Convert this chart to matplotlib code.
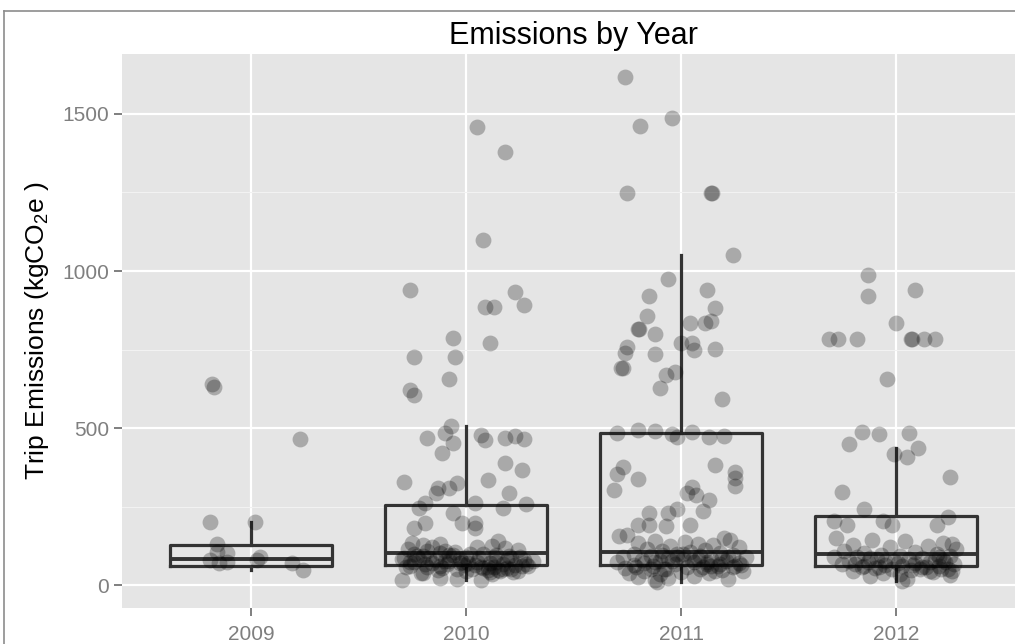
import matplotlib
matplotlib.use('Agg')
import matplotlib.pyplot as plt
from matplotlib.lines import Line2D

plt.rcParams['font.family'] = ['Liberation Sans', 'DejaVu Sans']
plt.rcParams['mathtext.default'] = 'regular'

years = ['2009', '2010', '2011', '2012']

# box statistics
q1 = [60, 64, 64, 60]
med = [83, 102, 105, 99]
q3 = [127, 255, 484, 220]
whis_lo = [48, 16, 10, 14]
whis_hi = [200, 505, 1050, 436]

# trips per year (value, jitter offset)
vals_2009 = [640, 630, 466, 200, 200, 131, 105, 102, 89, 80, 80, 73, 70, 70, 48]
jit_2009 = [-0.18, -0.17, 0.23, -0.19, 0.02, -0.16, -0.16, -0.11, 0.04, -0.19,
            0.03, -0.11, 0.19, -0.15, 0.24]

vals_2010 = [1458, 1378, 1098, 938, 932, 887, 887, 893, 788, 772, 727, 727, 657,
             622, 606, 505, 469, 485, 453, 421, 479, 463, 469, 475, 466, 389, 367,
             329, 310, 294, 310, 325, 335, 294, 262, 246, 258, 262, 246, 230, 198,
             182, 198, 198, 182, 16, 22, 19, 16, 38, 41,
             135, 128, 120, 115, 110, 105, 100, 98, 95, 92, 88, 85, 82, 80, 78, 75,
             72, 70, 68, 65, 62, 60, 58, 55, 52, 50, 48, 45, 42, 40, 125, 118, 112,
             108, 102, 96, 90, 86, 83, 79, 76, 73, 69, 66, 63, 59, 56, 53, 47, 44,
             140, 132, 122, 100, 93, 87, 74, 67, 57, 35,
             92, 85, 78, 71, 64, 58, 52, 46, 88, 81, 74, 67, 60, 54, 48, 95, 84,
             70, 62, 50]
jit_2010 = [0.05, 0.18, 0.08, -0.26, 0.23, 0.09, 0.13, 0.27, -0.06, 0.11, -0.24,
            -0.05, -0.08, -0.26, -0.24, -0.07, -0.18, -0.10, -0.06, -0.11, 0.07,
            0.09, 0.18, 0.23, 0.27, 0.18, 0.26, -0.29, -0.13, -0.14, -0.08, -0.04,
            0.10, 0.20, 0.04, 0.17, 0.28, -0.19, -0.22, -0.06, -0.19, -0.24, -0.02,
            0.04, 0.04, -0.30, -0.12, -0.04, 0.07, -0.21, 0.11,
            -0.25, -0.20, -0.16, -0.27, -0.10, -0.05, 0.02, 0.08, 0.14, 0.20, 0.25,
            -0.29, -0.22, -0.14, -0.08, -0.02, 0.05, 0.11, 0.17, 0.23, 0.29, -0.26,
            -0.18, -0.11, -0.04, 0.03, 0.10, 0.16, 0.22, -0.20, 0.12, 0.18, 0.24,
            -0.18, -0.12, -0.06, 0.00, 0.06, -0.30, 0.27, 0.31, -0.24, -0.16, -0.09,
            -0.01, 0.07, 0.13, 0.19, -0.13, 0.00, 0.15, -0.12, 0.05, -0.24, -0.20,
            0.21, 0.14, 0.28, -0.28, 0.12,
            -0.23, -0.17, -0.10, -0.03, 0.04, 0.10, 0.17, 0.24, 0.13, 0.19, -0.26,
            -0.19, -0.12, 0.08, 0.15, -0.08, -0.03, 0.01, 0.26, 0.21]

vals_2011 = [1618, 1461, 1487, 1248, 1248, 1248, 1050, 976, 922, 938, 881, 856,
             814, 814, 801, 833, 833, 842, 759, 740, 737, 772, 772, 750, 753, 692,
             692, 670, 680, 629, 594, 485, 495, 490, 480, 472, 488, 472, 475, 377,
             354, 383, 361, 341, 316, 338, 303, 313, 287, 294, 271, 236, 230, 230,
             243, 191, 191, 188, 191, 10, 22,
             160, 155, 150, 145, 140, 138, 135, 130, 128, 124, 120, 116, 112, 108,
             105, 102, 100, 98, 96, 94, 92, 90, 88, 86, 84, 82, 80, 78, 76, 74, 72,
             70, 68, 66, 64, 62, 60, 58, 56, 54, 52, 50, 48, 46, 44, 42, 40, 38, 35,
             30, 25, 20, 15,
             95, 88, 80, 74, 68, 62, 56, 50, 44, 90, 84, 76, 70, 64, 58, 52, 100,
             86, 72, 60]
jit_2011 = [-0.26, -0.19, -0.04, -0.25, 0.14, 0.145, 0.24, -0.06, -0.15, 0.12, 0.16,
            -0.16, -0.20, -0.195, -0.12, 0.04, 0.11, 0.14, -0.25, -0.26, -0.12, 0.00,
            0.05, 0.06, 0.16, -0.27, -0.28, -0.07, -0.03, -0.10, 0.19, -0.30, -0.20,
            -0.12, -0.04, -0.02, 0.05, 0.13, 0.20, -0.27, -0.30, 0.16, 0.25, 0.25,
            0.25, -0.20, -0.31, 0.05, 0.07, 0.03, 0.13, 0.10, -0.15, -0.06, -0.02,
            -0.20, -0.15, -0.07, 0.04, -0.11, -0.06,
            -0.25, -0.29, 0.20, 0.23, -0.12, 0.02, -0.20, 0.08, 0.15, -0.05, 0.27,
            -0.16, 0.11, -0.09, 0.04, 0.18, -0.22, -0.02, 0.24, -0.14, 0.09, 0.30,
            -0.27, -0.06, 0.14, 0.01, -0.18, 0.21, -0.10, 0.06, -0.30, 0.27, -0.03,
            0.12, -0.22, 0.17, -0.13, 0.03, 0.24, -0.26, -0.07, 0.09, 0.19, -0.17,
            0.29, 0.00, -0.24, 0.13, -0.10, 0.06, -0.20, 0.22, -0.12,
            -0.09, -0.02, 0.05, 0.12, 0.18, 0.25, -0.21, -0.14, 0.16, 0.22, 0.08,
            -0.04, -0.17, 0.28, 0.10, -0.08, 0.01, 0.19, -0.12, 0.14]

vals_2012 = [986, 922, 941, 836, 782, 782, 782, 782, 782, 782, 782, 657, 488, 482,
             485, 450, 418, 408, 436, 345, 297, 243, 204, 191, 204, 191, 191, 217,
             150, 145, 140, 135, 132, 128, 125, 120, 115, 110, 106, 102, 100, 97, 94,
             92, 90, 88, 86, 84, 82, 80, 78, 76, 74, 72, 70, 68, 66, 64, 62, 60, 58,
             56, 54, 52, 50, 48, 45, 42, 40, 36, 32, 28, 20, 14,
             85, 78, 71, 64, 57, 50, 44, 80, 72, 66, 58, 52, 90, 62, 46]
jit_2012 = [-0.13, -0.13, 0.09, 0.00, -0.31, -0.27, -0.18, 0.07, 0.075, 0.13, 0.18,
            -0.04, -0.16, -0.08, 0.06, -0.22, -0.01, 0.05, 0.10, 0.25, -0.25, -0.15,
            -0.29, -0.23, -0.06, -0.02, 0.19, 0.24,
            -0.28, -0.11, 0.04, 0.22, 0.26, -0.20, 0.15, -0.03, 0.28, -0.24, 0.09,
            -0.15, 0.19, -0.07, 0.02, 0.25, -0.29, -0.18, 0.12, -0.09, 0.06, 0.22,
            -0.22, -0.01, 0.16, -0.13, 0.09, 0.27, -0.25, -0.05, 0.03, 0.20, -0.16,
            0.12, -0.10, 0.24, -0.02, 0.07, -0.20, 0.17, -0.06, 0.02, 0.25, -0.12,
            0.05, 0.03,
            -0.12, -0.05, 0.01, 0.08, 0.14, 0.21, 0.26, 0.18, 0.23, -0.19, -0.08,
            0.11, 0.20, -0.15, 0.16]

all_vals = [vals_2009, vals_2010, vals_2011, vals_2012]
all_jit = [jit_2009, jit_2010, jit_2011, jit_2012]

fig = plt.figure(figsize=(10.15, 6.44), dpi=100)
ax = fig.add_axes([122 / 1015, 36 / 644, 903 / 1015, 554 / 644])
ax.set_facecolor('#e5e5e5')

stats = []
for i in range(4):
    stats.append({'q1': q1[i], 'med': med[i], 'q3': q3[i],
                  'whislo': whis_lo[i], 'whishi': whis_hi[i], 'fliers': []})
line = dict(color='#333333', linewidth=2.3)
ax.bxp(stats, positions=[1, 2, 3, 4], widths=0.75, showcaps=False,
       showfliers=False, boxprops=line, whiskerprops=line,
       medianprops=dict(color='#333333', linewidth=2.8), zorder=3)

for i in range(4):
    xs = [i + 1 + j for j in all_jit[i]]
    ax.scatter(xs, all_vals[i], s=130, color='black', alpha=0.26,
               linewidths=0, zorder=4)

ax.set_xlim(0.4, 4.6)
ax.set_ylim(-73, 1691)
ax.set_xticks([1, 2, 3, 4])
ax.set_xticklabels(years)
ax.set_yticks([0, 500, 1000, 1500])
ax.set_yticks([250, 750, 1250], minor=True)
ax.grid(which='major', color='white', linewidth=1.6)
ax.grid(which='minor', axis='y', color='#f2f2f2', linewidth=0.8)
ax.set_axisbelow(True)
for s in ax.spines.values():
    s.set_visible(False)
ax.tick_params(which='major', colors='#7f7f7f', labelsize=15, length=6,
               width=1.4)
ax.tick_params(axis='x', pad=6)
ax.tick_params(which='minor', length=0)

ax.set_title('Emissions by Year', fontsize=22, pad=7)
ax.set_ylabel('Trip Emissions (kgCO$_{2}$e )', fontsize=19, labelpad=8)

# outer frame of the screenshot
fig.add_artist(Line2D([4 / 1015, 4 / 1015], [0, 1 - 11 / 644], color='#8c8c8c',
                      linewidth=1.2, transform=fig.transFigure))
fig.add_artist(Line2D([4 / 1015, 1], [1 - 11 / 644, 1 - 11 / 644],
                      color='#8c8c8c', linewidth=1.2, transform=fig.transFigure))

fig.savefig('out.png', dpi=100)
